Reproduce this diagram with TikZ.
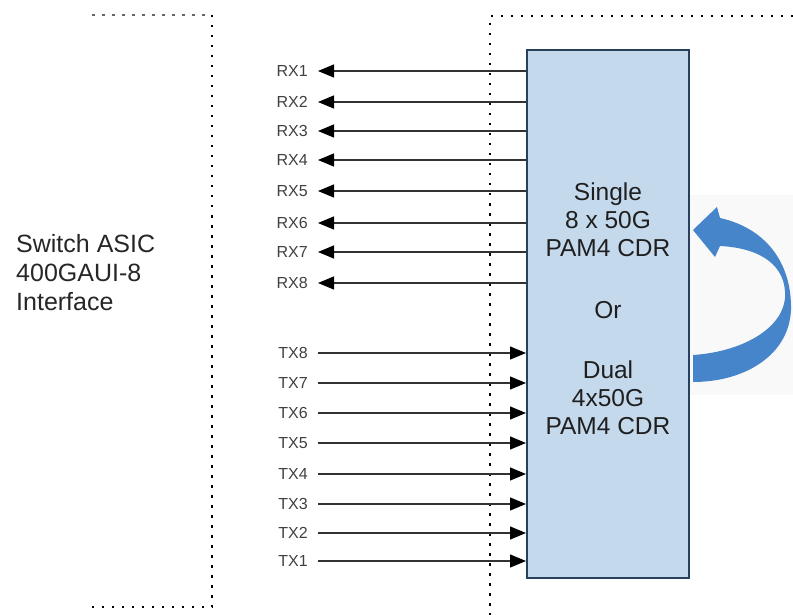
\documentclass[tikz,border=0pt]{standalone}
\usepackage{fontspec}
\setmainfont{Liberation Sans}
\usepackage{tikz}
\usetikzlibrary{arrows.meta,positioning}
\usepackage{xcolor}
\definecolor{cdrfill}{RGB}{197,217,237}
\definecolor{cdrline}{RGB}{38,64,94}
\definecolor{loopblue}{RGB}{70,133,201}
\definecolor{lanegray}{RGB}{50,50,50}
\tikzstyle{lane} = [line width=1.3pt, color=lanegray, -{Triangle[length=16pt,width=13pt,color=black]}]
\tikzstyle{lanelabel} = [font=\fontsize{16}{16}\selectfont, text=black!75, inner xsep=10pt, inner ysep=0pt, anchor=east]
\tikzstyle{border} = [dash pattern=on 2.5pt off 7.5pt, line width=2.5pt]
\tikzstyle{cdrbox} = [rectangle, minimum width=162pt, minimum height=528pt, draw=cdrline, fill=cdrfill, line width=2pt]

\begin{document}
\begin{tikzpicture}[x=1pt, y=-1pt]
\useasboundingbox (0,0) rectangle (793,615);

% Backdrop behind the loop arrow
\fill[black!2.5] (689,195) rectangle (793,395);

% Dotted borders
\draw[border, black!60] (92,15) -- (212,15);
\draw[border] (212,15) -- (212,607) -- (92,607);
\draw[border] (793,16) -- (490,16) -- (490,615);

% Host side
\node (asic) [anchor=north west, inner sep=0pt, align=left, font=\fontsize{25}{29}\selectfont, text=black!85] at (16,234.5) {Switch ASIC\\400GAUI-8\\Interface};

% CDR block
\node (cdr) [cdrbox] at (608,314) {};
\node (modes) [anchor=north, inner sep=0pt, align=center, font=\fontsize{24.5}{28}\selectfont, text=black!88] at (608,182.5) {Single\\8 x 50G\\PAM4 CDR\\[34pt]Or\\[32pt]Dual\\4x50G\\PAM4 CDR};

% Receive lanes
\node (rx1) [lanelabel] at (318,71) {RX1};
\node (rx2) [lanelabel] at (318,102) {RX2};
\node (rx3) [lanelabel] at (318,131) {RX3};
\node (rx4) [lanelabel] at (318,160) {RX4};
\node (rx5) [lanelabel] at (318,191) {RX5};
\node (rx6) [lanelabel] at (318,223) {RX6};
\node (rx7) [lanelabel] at (318,252) {RX7};
\node (rx8) [lanelabel] at (318,283) {RX8};

\draw[lane] (cdr.west |- rx1) -- (rx1);
\draw[lane] (cdr.west |- rx2) -- (rx2);
\draw[lane] (cdr.west |- rx3) -- (rx3);
\draw[lane] (cdr.west |- rx4) -- (rx4);
\draw[lane] (cdr.west |- rx5) -- (rx5);
\draw[lane] (cdr.west |- rx6) -- (rx6);
\draw[lane] (cdr.west |- rx7) -- (rx7);
\draw[lane] (cdr.west |- rx8) -- (rx8);

% Transmit lanes
\node (tx8) [lanelabel] at (318,353) {TX8};
\node (tx7) [lanelabel] at (318,383) {TX7};
\node (tx6) [lanelabel] at (318,413) {TX6};
\node (tx5) [lanelabel] at (318,443) {TX5};
\node (tx4) [lanelabel] at (318,474) {TX4};
\node (tx3) [lanelabel] at (318,504) {TX3};
\node (tx2) [lanelabel] at (318,533) {TX2};
\node (tx1) [lanelabel] at (318,561) {TX1};

\draw[lane] (tx8) -- (cdr.west |- tx8);
\draw[lane] (tx7) -- (cdr.west |- tx7);
\draw[lane] (tx6) -- (cdr.west |- tx6);
\draw[lane] (tx5) -- (cdr.west |- tx5);
\draw[lane] (tx4) -- (cdr.west |- tx4);
\draw[lane] (tx3) -- (cdr.west |- tx3);
\draw[lane] (tx2) -- (cdr.west |- tx2);
\draw[lane] (tx1) -- (cdr.west |- tx1);

% Mode loop arrow
\fill[loopblue] (693,230) -- (717,207) -- (720,218)
  .. controls (765,228) and (792,262) .. (791,310)
  .. controls (789,355) and (745,382) .. (693,382)
  -- (693,355)
  .. controls (740,352) and (782,330) .. (785,298)
  .. controls (787,265) and (760,248) .. (720,246)
  -- (715,257) -- cycle;
\end{tikzpicture}
\end{document}
